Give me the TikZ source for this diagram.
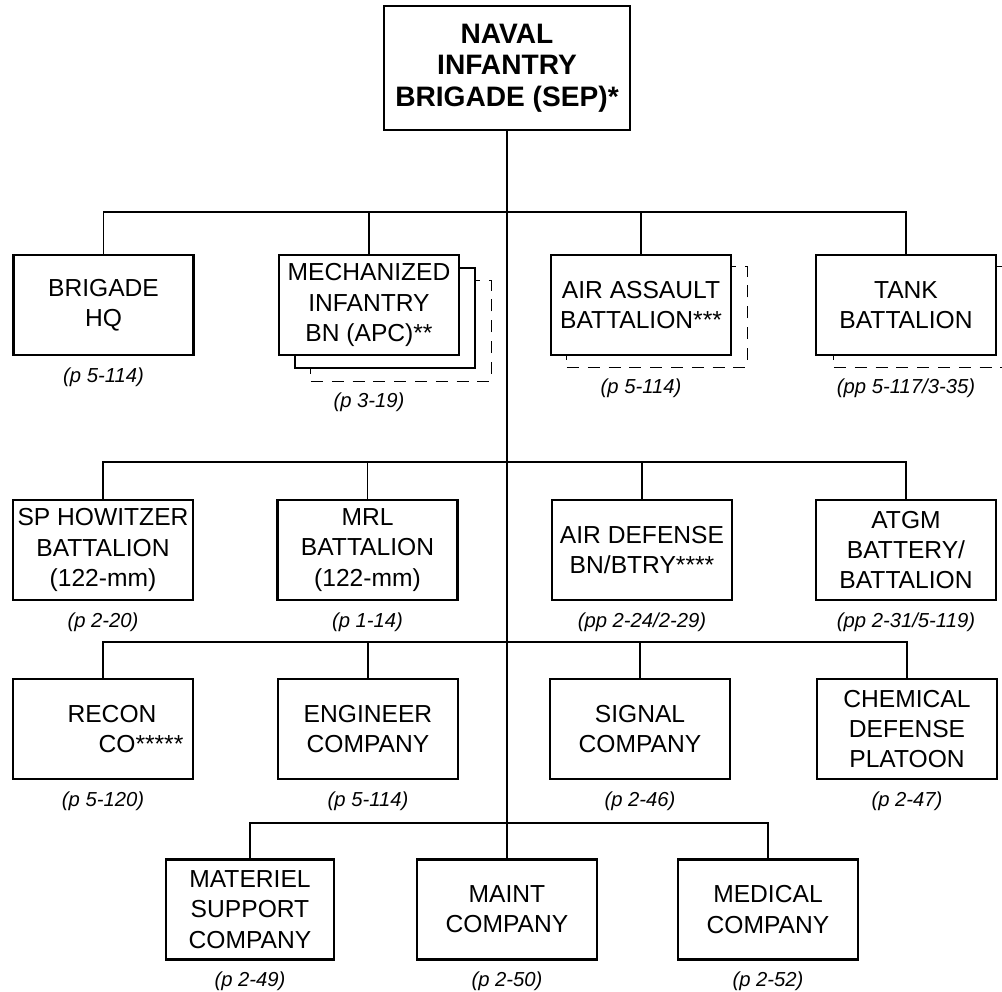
\documentclass[tikz,border=0pt]{standalone}
\usepackage{fontspec}
\setmainfont{Liberation Sans}
\usetikzlibrary{positioning}
\tikzset{
    unitbox/.style={
        draw,
        line width=1.5pt,
        fill=white,
        align=center,
        inner sep=0pt,
        font=\fontsize{17.5}{21.5}\selectfont,
        minimum width=4.5cm,
        minimum height=2.5cm
    },
    topbox/.style={
        unitbox,
        font=\fontsize{20}{22.5}\selectfont\bfseries,
        minimum width=6.15cm,
        minimum height=3.1cm
    },
    ghostbox/.style={
        draw,
        dash pattern=on 0.3cm off 0.22cm,
        line width=0.7pt,
        fill=white,
        inner sep=0pt,
        minimum width=4.5cm,
        minimum height=2.5cm
    },
    pageref/.style={
        font=\fontsize{14.4}{17}\selectfont\itshape,
        inner sep=0pt
    },
    link/.style={line width=1.2pt}
}

\begin{document}
\begin{tikzpicture}[x=0.025cm, y=-0.025cm]
\clip (0,0) rectangle (1002,992);

% Brigade
\node[topbox] (brigade) at (507,68) {NAVAL\\INFANTRY\\BRIGADE (SEP)*};

% Row lines
\coordinate (r1) at (507,212);
\coordinate (r2) at (507,462);
\coordinate (r3) at (507,642);
\coordinate (r4) at (507,823);

% First row
\node[unitbox] (hq) at (103.5,305) {BRIGADE\\HQ};
\node[ghostbox] (mechghost) at (401,331) {};
\node[unitbox] (mechback) at (385,318) {};
\node[unitbox] (mech) at (369,305) {MECHANIZED\\INFANTRY\\BN (APC)**};
\node[ghostbox] (assaultghost) at (657,317) {};
\node[unitbox] (assault) at (641,305) {AIR ASSAULT\\BATTALION***};
\node[ghostbox] (tankghost) at (924,317) {};
\node[unitbox] (tank) at (906,305) {TANK\\BATTALION};

\node[pageref, below=0.28cm] (hqref) at (hq.south) {(p 5-114)};
\node[pageref, below=0.28cm] (mechref) at (mech |- mechghost.south) {(p 3-19)};
\node[pageref, below=0.28cm] (assaultref) at (assault |- assaultghost.south) {(p 5-114)};
\node[pageref, below=0.28cm] (tankref) at (tank |- tankghost.south) {(pp 5-117/3-35)};

% Second row
\node[unitbox] (howitzer) at (103,550) {SP HOWITZER\\BATTALION\\(122-mm)};
\node[unitbox] (mrl) at (367.5,550) {MRL\\BATTALION\\(122-mm)};
\node[unitbox] (airdef) at (642,550) {AIR DEFENSE\\BN/BTRY****};
\node[unitbox] (atgm) at (906,550) {ATGM\\BATTERY/\\BATTALION};

\node[pageref, below=0.28cm] (howitzerref) at (howitzer.south) {(p 2-20)};
\node[pageref, below=0.28cm] (mrlref) at (mrl.south) {(p 1-14)};
\node[pageref, below=0.28cm] (airdefref) at (airdef.south) {(pp 2-24/2-29)};
\node[pageref, below=0.28cm] (atgmref) at (atgm.south) {(pp 2-31/5-119)};

% Third row
\node[unitbox] (recon) at (103,729) {\hspace*{0.45cm}RECON\\\hspace*{1.9cm}CO*****};
\node[unitbox] (engineer) at (368,729) {ENGINEER\\COMPANY};
\node[unitbox] (signal) at (640,729) {SIGNAL\\COMPANY};
\node[unitbox] (chemical) at (907,729) {CHEMICAL\\DEFENSE\\PLATOON};

\node[pageref, below=0.28cm] (reconref) at (recon.south) {(p 5-120)};
\node[pageref, below=0.28cm] (engineerref) at (engineer.south) {(p 5-114)};
\node[pageref, below=0.28cm] (signalref) at (signal.south) {(p 2-46)};
\node[pageref, below=0.28cm] (chemicalref) at (chemical.south) {(p 2-47)};

% Fourth row
\node[unitbox, minimum width=4.2cm] (materiel) at (250,909.5) {MATERIEL\\SUPPORT\\COMPANY};
\node[unitbox] (maint) at (507,909.5) {MAINT\\COMPANY};
\node[unitbox] (medical) at (768,909.5) {MEDICAL\\COMPANY};

\node[pageref, below=0.28cm] (materielref) at (materiel.south) {(p 2-49)};
\node[pageref, below=0.28cm] (maintref) at (maint.south) {(p 2-50)};
\node[pageref, below=0.28cm] (medicalref) at (medical.south) {(p 2-52)};

% Trunk
\draw[link] (brigade.south) -- (maint.north);

% Branches
\draw[link] (hq.north) |- (r1) -| (tank.north);
\draw[link] (mech.north) -- (mech.north |- r1);
\draw[link] (assault.north) -- (assault.north |- r1);

\draw[link] (howitzer.north) |- (r2) -| (atgm.north);
\draw[link] (mrl.north) -- (mrl.north |- r2);
\draw[link] (airdef.north) -- (airdef.north |- r2);

\draw[link] (recon.north) |- (r3) -| (chemical.north);
\draw[link] (engineer.north) -- (engineer.north |- r3);
\draw[link] (signal.north) -- (signal.north |- r3);

\draw[link] (materiel.north) |- (r4) -| (medical.north);

\end{tikzpicture}
\end{document}
